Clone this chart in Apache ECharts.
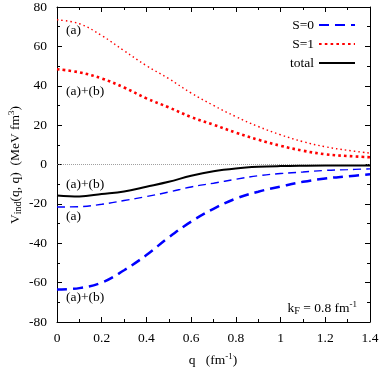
<!DOCTYPE html>
<html>
<head>
<meta charset="UTF-8">
<title>V_ind</title>
<script src="https://cdn.jsdelivr.net/npm/echarts@6/dist/echarts.min.js"></script>
<style>
  html, body { margin: 0; padding: 0; background: #fff; }
</style>
</head>
<body>
<div id="main" style="width:382px;height:373px;"></div>
<script type="text/javascript">
// q grid (fm^-1)
var qValues = [0, 0.1, 0.2, 0.3, 0.4, 0.5, 0.6, 0.7, 0.8, 0.9, 1.0, 1.1, 1.2, 1.3, 1.4];
// S=1 channel
var s1A  = [73.5, 71.5, 65.5, 57.8, 50.2, 43.6, 36.3, 30.0, 24.3, 19.3, 15.1, 11.6, 9.0, 7.2, 5.8];
var s1AB = [48.4, 46.8, 43.7, 39.1, 33.6, 29.0, 24.1, 20.2, 16.2, 12.6, 9.5, 7.0, 5.2, 4.3, 3.7];
// S=0 channel
var s0A  = [-21.6, -21.4, -20.2, -18.3, -16.3, -14.0, -11.4, -9.5, -7.5, -5.7, -4.6, -3.8, -3.0, -2.6, -2.2];
var s0AB = [-63.5, -62.8, -60.0, -53.7, -46.0, -37.0, -29.0, -22.5, -17.3, -13.8, -11.2, -8.8, -7.1, -6.0, -5.0];
// total (a)+(b)
var totalAB = [-15.7, -16.2, -15.0, -13.7, -11.3, -8.8, -5.7, -3.4, -2.0, -1.2, -0.8, -0.6, -0.5, -0.5, -0.5];

function pairs(ys) {
  return qValues.map(function (q, i) { return [q, ys[i]]; });
}

var serif = 'Liberation Serif';
var fs = 13.5;
var myChart = echarts.init(document.getElementById('main'));

var axisCommon = {
  axisLine: { show: true, onZero: false, lineStyle: { color: '#000', width: 1 } },
  axisTick: { show: true, inside: true, length: 5, lineStyle: { color: '#000' } },
  minorTick: { show: true, splitNumber: 2, length: 3, lineStyle: { color: '#000' } },
  splitLine: { show: false }
};

var option = {
  animation: false,
  grid: { left: 57, right: 12, top: 6, bottom: 51, containLabel: false },
  legend: {
    data: ['S=0', 'S=1', 'total'],
    orient: 'vertical',
    right: 21,
    top: 13,
    align: 'right',
    itemWidth: 36,
    itemHeight: 10,
    itemGap: 5,
    itemStyle: { opacity: 0 },
    textStyle: { fontFamily: serif, fontSize: fs, color: '#000' }
  },
  xAxis: [
    Object.assign({
      type: 'value', min: 0, max: 1.4, interval: 0.2, position: 'bottom',
      axisLabel: { fontFamily: serif, fontSize: fs, color: '#000', margin: 9 }
    }, axisCommon),
    Object.assign({
      type: 'value', min: 0, max: 1.4, interval: 0.2, position: 'top',
      axisLabel: { show: false }
    }, axisCommon)
  ],
  yAxis: [
    Object.assign({
      type: 'value', min: -80, max: 80, interval: 20, position: 'left',
      axisLabel: { fontFamily: serif, fontSize: fs, color: '#000', margin: 10 }
    }, axisCommon),
    Object.assign({
      type: 'value', min: -80, max: 80, interval: 20, position: 'right',
      axisLabel: { show: false }
    }, axisCommon)
  ],
  series: [
    {
      name: 'S=0', type: 'line', smooth: 0.4, showSymbol: false, symbol: 'none',
      data: pairs(s0AB),
      lineStyle: { color: '#0000ff', width: 2.5, type: [10, 6] },
      itemStyle: { color: '#0000ff' },
      markLine: {
        silent: true, symbol: 'none', label: { show: false },
        lineStyle: { color: '#777', width: 0.7, type: [1, 1] },
        data: [{ yAxis: 0 }]
      }
    },
    {
      name: 'S=0', type: 'line', smooth: 0.4, showSymbol: false, symbol: 'none',
      data: pairs(s0A),
      lineStyle: { color: '#0000ff', width: 1.4, type: [8, 5] },
      itemStyle: { color: '#0000ff' }
    },
    {
      name: 'S=1', type: 'line', smooth: 0.4, showSymbol: false, symbol: 'none',
      data: pairs(s1AB),
      lineStyle: { color: '#ff0000', width: 2.6, type: [2.6, 3.2] },
      itemStyle: { color: '#ff0000' }
    },
    {
      name: 'S=1', type: 'line', smooth: 0.4, showSymbol: false, symbol: 'none',
      data: pairs(s1A),
      lineStyle: { color: '#ff0000', width: 1.4, type: [1.5, 3] },
      itemStyle: { color: '#ff0000' }
    },
    {
      name: 'total', type: 'line', smooth: 0.4, showSymbol: false, symbol: 'none',
      data: pairs(totalAB),
      lineStyle: { color: '#000', width: 2 },
      itemStyle: { color: '#000' }
    }
  ],
  graphic: [
    { type: 'text', left: 66, top: 23, style: { text: '(a)', font: fs + 'px ' + serif, fill: '#000' } },
    { type: 'text', left: 66, top: 84, style: { text: '(a)+(b)', font: fs + 'px ' + serif, fill: '#000' } },
    { type: 'text', left: 66, top: 177, style: { text: '(a)+(b)', font: fs + 'px ' + serif, fill: '#000' } },
    { type: 'text', left: 66, top: 209, style: { text: '(a)', font: fs + 'px ' + serif, fill: '#000' } },
    { type: 'text', left: 66, top: 290, style: { text: '(a)+(b)', font: fs + 'px ' + serif, fill: '#000' } },
    {
      type: 'text', x: 357, y: 308,
      style: {
        text: '{n|k}{s|F}{n| = 0.8 fm}{p|-1}',
        align: 'right', verticalAlign: 'middle',
        rich: {
          n: { fontFamily: serif, fontSize: fs, fill: '#000' },
          s: { fontFamily: serif, fontSize: 10, fill: '#000', padding: [6, 0, 0, 0] },
          p: { fontFamily: serif, fontSize: 9, fill: '#000', padding: [0, 0, 7, 0] }
        }
      }
    },
    {
      type: 'text', x: 213, y: 360,
      style: {
        text: '{n|q   (fm}{p|-1}{n|)}',
        align: 'center', verticalAlign: 'middle',
        rich: {
          n: { fontFamily: serif, fontSize: fs, fill: '#000' },
          p: { fontFamily: serif, fontSize: 9, fill: '#000', padding: [0, 0, 7, 0] }
        }
      }
    },
    {
      type: 'text', x: 15, y: 165, rotation: Math.PI / 2,
      style: {
        text: '{n|V}{s|ind}{n|(q, q)  (MeV fm}{p|3}{n|)}',
        align: 'center', verticalAlign: 'middle',
        rich: {
          n: { fontFamily: serif, fontSize: fs, fill: '#000' },
          s: { fontFamily: serif, fontSize: 10, fill: '#000', padding: [6, 0, 0, 0] },
          p: { fontFamily: serif, fontSize: 9, fill: '#000', padding: [0, 0, 7, 0] }
        }
      }
    }
  ]
};
myChart.setOption(option);
</script>
</body>
</html>
